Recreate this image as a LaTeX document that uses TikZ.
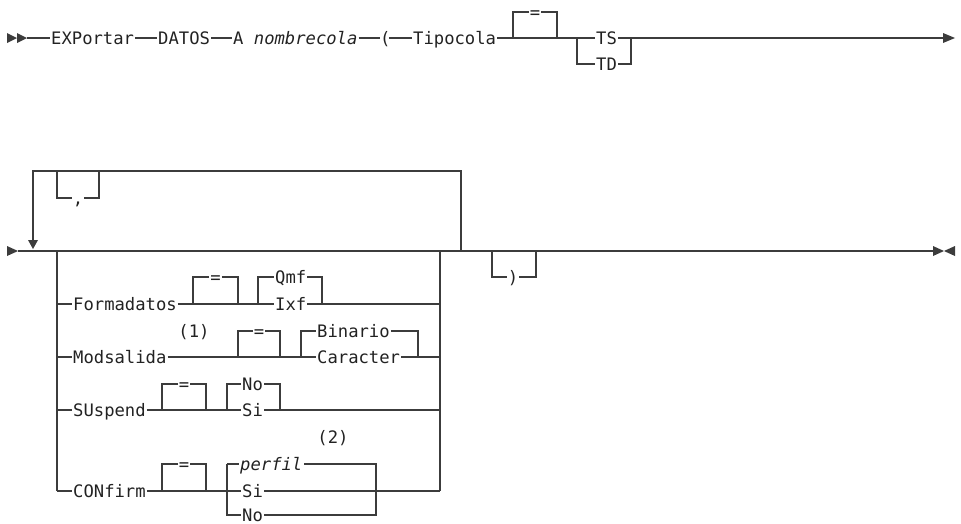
\documentclass[tikz,border=0pt]{standalone}
\usepackage{fontspec}
\setmonofont{DejaVu Sans Mono}
\definecolor{linecol}{HTML}{3C3C3C}
\definecolor{textcol}{HTML}{222222}
\begin{document}
\begin{tikzpicture}[x=1pt,y=-1pt,
  rr/.style={draw=linecol, line width=1.1pt},
  tip/.style={fill=linecol, draw=none},
  lbl/.style={inner xsep=1pt, inner ysep=0pt, text height=12.5pt, text depth=0pt,
    anchor=west, font=\ttfamily\fontsize{17.2}{20}\selectfont, text=textcol},
  lblc/.style={lbl, anchor=center}]
\useasboundingbox (0,0) rectangle (961,523);

% ---------------- Row 1 ----------------
\fill[tip] (7,33) -- (17,38) -- (7,43) -- cycle;
\fill[tip] (17,33) -- (27,38) -- (17,43) -- cycle;
\coordinate (s1) at (27,38);
\node[lbl] (exp) at (50,38) {EXPortar};
\node[lbl] (datos) at (157,38) {DATOS};
\node[lbl] (nom) at (232,38) {A \textit{nombrecola}};
\node[lbl, inner xsep=0pt] (par) at (380,38) {(};
\node[lbl] (tipo) at (412,38) {Tipocola};
\coordinate (e1l) at (513,38);
\coordinate (e1r) at (557,38);
\node[lblc] (eq1) at (535,12) {=};
\coordinate (b1l) at (577,38);
\coordinate (b1r) at (631,38);
\node[lbl] (ts) at (595,38) {TS};
\node[lbl] (td) at (595,64) {TD};
\coordinate (end1) at (943,38);

\draw[rr] (s1) -- (exp.west) (exp.east) -- (datos.west) (datos.east) -- (nom.west)
  (nom.east) -- (par.west) ([xshift=-2pt]par.east) -- (tipo.west) (tipo.east) -- (b1l) -- (ts.west);
\draw[rr] (e1l) |- (eq1.west) (eq1.east) -| (e1r);
\draw[rr] (b1l) |- (td.west) (td.east) -| (b1r);
\draw[rr] (ts.east) -- (end1);
\fill[tip] (943,33) -- (955,38) -- (943,43) -- cycle;

% ---------------- Row 2 ----------------
\fill[tip] (7,246) -- (18,251) -- (7,256) -- cycle;
\coordinate (s2) at (18,251);
\coordinate (end2) at (933,251);
\draw[rr] (s2) -- (end2);
\fill[tip] (933,246) -- (944,251) -- (933,256) -- cycle;
\fill[tip] (955,246) -- (944,251) -- (955,256) -- cycle;
\draw[draw=linecol, line width=2.2pt] (540,251) -- (561,251);

% repeat loop
\coordinate (lpl) at (33,241);
\coordinate (lpr) at (461,251);
\draw[rr] (lpl) |- (461,171) -- (lpr);
\fill[tip] (28,240) -- (38,240) -- (33,249) -- cycle;
\node[lblc] (com) at (78,198) {,};
\draw[rr] (57,171) |- (com.west) (com.east) -| (99,171);

% choice rails
\coordinate (cl) at (57,251);
\coordinate (cr) at (440,251);
\draw[rr] (cl) -- (57,491);
\draw[rr] (cr) -- (440,491);

% Formadatos
\node[lbl] (fmt) at (72,304) {Formadatos};
\node[lblc] (eq2) at (215.5,277) {=};
\node[lbl] (qmf) at (274,277) {Qmf};
\node[lbl] (ixf) at (274,304) {Ixf};
\draw[rr] (57,304) -- (fmt.west) (fmt.east) -- (ixf.west) (ixf.east) -- (440,304);
\draw[rr] (193,304) |- (eq2.west) (eq2.east) -| (238,304);
\draw[rr] (258,304) |- (qmf.west) (qmf.east) -| (322,304);

% Modsalida
\node[lbl] (mod) at (72,357) {Modsalida};
\node[lblc] (n1) at (194,331) {(1)};
\node[lblc] (eq3) at (259,331) {=};
\node[lbl] (bin) at (316,331) {Binario};
\node[lbl] (car) at (316,357) {Caracter};
\draw[rr] (57,357) -- (mod.west) (mod.east) -- (car.west) (car.east) -- (440,357);
\draw[rr] (238,357) |- (eq3.west) (eq3.east) -| (280,357);
\draw[rr] (301,357) |- (bin.west) (bin.east) -| (418,357);

% SUspend
\node[lbl] (sus) at (72,410) {SUspend};
\node[lblc] (eq4) at (184,384) {=};
\node[lbl] (sno) at (241,384) {No};
\node[lbl] (ssi) at (241,410) {Si};
\draw[rr] (57,410) -- (sus.west) (sus.east) -- (ssi.west) (ssi.east) -- (440,410);
\draw[rr] (162,410) |- (eq4.west) (eq4.east) -| (206,410);
\draw[rr] (227,410) |- (sno.west) (sno.east) -| (280,410);

% CONfirm
\node[lbl] (cfm) at (72,491) {CONfirm};
\node[lblc] (eq5) at (184,464) {=};
\node[lblc] (n2) at (333,437) {(2)};
\node[lbl] (per) at (239,464) {\textit{perfil}};
\node[lbl] (csi) at (241,491) {Si};
\node[lbl] (cno) at (241,515) {No};
\draw[rr] (57,491) -- (cfm.west) (cfm.east) -- (csi.west) (csi.east) -- (440,491);
\draw[rr] (162,491) |- (eq5.west) (eq5.east) -| (206,491);
\draw[rr] (227,464) -- (227,515) -- (cno.west) (cno.east) -| (376,464) -- (per.east);
\draw[rr] (227,464) -- (per.west);

% closing parenthesis
\node[lblc] (rp) at (513,277) {)};
\draw[rr] (492,251) |- (rp.west) (rp.east) -| (536,251);
\end{tikzpicture}
\end{document}
